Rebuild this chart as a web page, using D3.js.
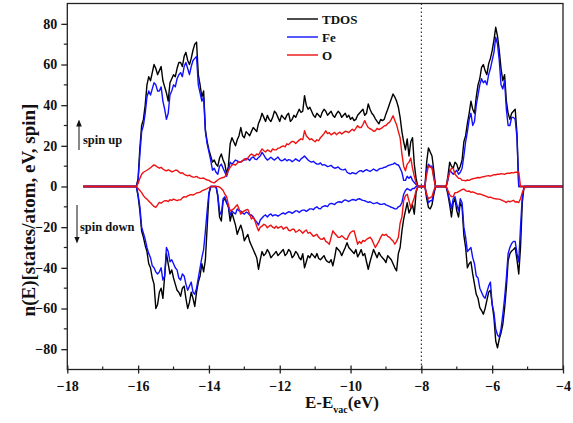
<!DOCTYPE html>
<html>
<head>
<meta charset="utf-8">
<script src="https://cdn.jsdelivr.net/npm/d3@7"></script>
<style>
  html, body { margin: 0; padding: 0; background: #fff; }
  svg { display: block; }
  text { font-family: "Liberation Serif", "Times New Roman", serif; font-weight: bold; }
</style>
</head>
<body>
<svg id="chart" width="573" height="423"></svg>
<script>
// Energy grid (eV, relative to vacuum level)
const energies = [-17.55,
  -16.1,-16.05,-16.0,-15.95,-15.9,-15.85,-15.8,-15.75,-15.7,-15.65,-15.6,-15.55,-15.5,-15.45,-15.4,-15.35,-15.3,-15.25,-15.2,-15.15,
  -15.1,-15.05,-15.0,-14.95,-14.9,-14.85,-14.8,-14.75,-14.7,-14.65,-14.6,-14.55,-14.5,-14.45,-14.4,-14.35,-14.3,-14.25,-14.2,-14.15,
  -14.1,-14.05,-14.0,-13.95,-13.9,-13.85,-13.8,-13.75,-13.7,-13.65,-13.6,-13.55,-13.5,-13.45,-13.4,-13.35,-13.3,-13.25,-13.2,-13.15,
  -13.1,-13.05,-13.0,-12.95,-12.9,-12.85,-12.8,-12.75,-12.7,-12.65,-12.6,-12.55,-12.5,-12.45,-12.4,-12.35,-12.3,-12.25,-12.2,-12.15,
  -12.1,-12.05,-12.0,-11.95,-11.9,-11.85,-11.8,-11.75,-11.7,-11.65,-11.6,-11.55,-11.5,-11.45,-11.4,-11.35,-11.3,-11.25,-11.2,-11.15,
  -11.1,-11.05,-11.0,-10.95,-10.9,-10.85,-10.8,-10.75,-10.7,-10.65,-10.6,-10.55,-10.5,-10.45,-10.4,-10.35,-10.3,-10.25,-10.2,-10.15,
  -10.1,-10.05,-10.0,-9.95,-9.9,-9.85,-9.8,-9.75,-9.7,-9.65,-9.6,-9.55,-9.5,-9.45,-9.4,-9.35,-9.3,-9.25,-9.2,-9.15,
  -9.1,-9.05,-9.0,-8.95,-8.9,-8.85,-8.8,-8.75,-8.7,-8.65,-8.6,-8.55,-8.5,-8.45,-8.4,-8.35,-8.3,-8.25,-8.2,-8.15,
  -8.1,-8.05,-8.0,-7.95,-7.9,-7.85,-7.8,-7.75,-7.7,-7.65,-7.6,-7.55,-7.5,-7.45,-7.4,-7.35,-7.3,-7.25,-7.2,-7.15,
  -7.1,-7.05,-7.0,-6.95,-6.9,-6.85,-6.8,-6.75,-6.7,-6.65,-6.6,-6.55,-6.5,-6.45,-6.4,-6.35,-6.3,-6.25,-6.2,-6.15,
  -6.1,-6.05,-6.0,-5.95,-5.9,-5.85,-5.8,-5.75,-5.7,-5.65,-5.6,-5.55,-5.5,-5.45,-5.4,-5.35,-5.3,-5.25,-5.2,-5.15,
  -5.1,-5.05,-5.0,
  -4.0];

// TDOS spin up
const tdosUp = [0,
  0,0, 4,19, 30,33, 40,50, 54,52, 56,60, 58,55, 57,59, 52,49, 46,42,
  51,53, 55,54, 58,61, 61,59, 64,66, 62,60, 63,67, 70,71, 55,50, 44,47,
  28,22, 18,15, 12,13, 11,10, 14,16, 13,11, 6,10, 21,24, 22,20, 23,25,
  29,25, 24,27, 26,25, 27,29, 28,27, 31,33, 36,34, 32,35, 33,32, 34,37,
  36,34, 32,35, 34,33, 35,36, 32,33, 35,34, 36,38, 36.5,37, 44.7,40, 38,39,
  37,35, 34,36, 35,34, 36.5,38, 37,35, 36,37, 35,34, 35.7,37, 36,34, 35,36,
  34,35, 33,34, 32.4,33, 35,36, 37,38, 35,36, 40.6,38, 36,35, 33.3,32, 30.8,33,
  32.4,33, 35.7,38, 40.6,43, 45.5,44, 42,39, 34,27, 22,18, 23.4,15, 22,24, 11,4,
  0,0, 0,0, 0,12, 19,17, 15,8, 0,0, 0,0, 0,0, 0,5, 12,10,
  9,12, 11,8, 10,13, 22,25, 31,36, 42,38, 36,44, 50,53, 58.6,60, 57,55,
  60.3,63, 66.8,72, 78.3,74, 66.8,58, 52,55, 42,36, 33,36, 37,38, 26,0, 0,0,
  0,0,0,
  0];
// TDOS spin down
const tdosDown = [0,
  0,0, -5,-12, -22,-25, -29,-32, -38,-40, -45,-48, -60,-58, -52,-50, -55,-44, -33,-38,
  -43,-41, -45,-48, -51,-52, -54,-50, -49,-55, -60,-57, -52,-55, -59,-52, -47,-44, -38,-42,
  -36,-20, -4,0, 0,0, 0,-5, -15,-17, -7,-6, -8,-10, -17,-13, -16,-19, -23.5,-21,
  -19,-22, -26.7,-25, -23.6,-27, -29,-31, -33,-35, -40.7,-36, -32,-34, -33,-31, -32.5,-35, -34,-33,
  -32,-34, -33,-32, -31,-34, -33,-31, -32,-35, -34,-32, -33,-35, -36,-33, -40,-37, -34,-35,
  -33,-34, -35,-33, -35.4,-36, -35,-34, -36,-37, -37.4,-36, -39,-35, -30,-31, -32,-34, -32,-30,
  -27.6,-30, -31,-32, -33,-31, -34.6,-33, -31,-34, -33,-37, -40.7,-37, -34,-31, -33,-35, -32.4,-34,
  -35,-36, -37.4,-34, -35,-36, -38,-40, -41.5,-33, -30,-22, -16,-12, -8,-13, -11,-9, -13.6,-3,
  0,0, 0,0, 0,-6, -10.3,-11, -9,-4, 0,0, 0,0, 0,0, 0,-4, -9,-15,
  -8,-6, -12,-15, -8,-10, -24,-30, -40,-38, -37,-43, -48,-53, -55,-59.6, -61,-62.8, -60,-56,
  -52,-51, -58,-64.5, -76,-79.3, -75,-72, -67.8,-60, -50,-36.6, -33,-31.7, -31,-30, -36,-43, -30,-8,
  0,0,0,
  0];
// Fe spin up
const feUp = [0,
  0,0, 3,16, 27,30, 36,44, 47,45, 48,51, 50,47, 47,49, 42,38, 33,36,
  45,47, 50,49, 53,55, 56,54, 59,61, 58,55, 59,62, 63,64, 50,46, 42,44,
  27,21, 17,13, 8,9, 7,6, 10,11, 9,7, 5,8, 12,11, 12,13, 12.6,12,
  12,12.8, 13,13.8, 13.6,12.8, 14,14.6, 13.5,13.2, 14.3,15, 16.8,15.5, 14,13, 13.6,14.4, 13.6,13,
  13.8,14.5, 13.2,12.6, 13,13.6, 12.6,13.2, 13,12.2, 12.8,13.6, 13,12.4, 13.6,14.2, 15,14, 13,12.4,
  12,12.4, 11.6,11, 11,11.6, 10.5,10.8, 10.4,9.8, 10,10.4, 9.5,9, 9.2,9.6, 8.7,8.3, 8.2,8.6,
  7,6.5, 6.2,6.8, 6.5,6.2, 7,7.6, 7.8,7.2, 7.8,8.3, 7.8,7.4, 8,8.6, 8,7.7, 8.5,8.9,
  9,9.4, 9.6,10.2, 10.5,10.8, 11,11.6, 10.8,10.6, 9,7, 3,3, 5,4, 5,3, 2,1,
  0,0, 0,0, 0,8, 11,10, 10,5, 0,0, 0,0, 0,0, 0,3, 8,7,
  6,7, 8,6, 7,9, 15,22, 27,33, 36,30, 32,40, 45,50, 53,51, 52,50,
  55,58, 62,66, 73.4,70, 62,50, 48,52, 38,30, 30,34, 34,33, 24,0, 0,0,
  0,0,0,
  0];
// Fe spin down
const feDown = [0,
  0,0, -4,-10, -20,-23, -26,-30, -33,-35, -39,-40, -42,-43, -42,-40, -46,-44, -30,-32,
  -37,-36, -38,-40, -41,-45, -46,-43, -44,-48, -51,-49, -47,-52, -53,-50, -45,-40, -35,-31,
  -22,-12, -3,0, 0,0, 0,-4, -12,-14, -6,-5, -8,-10, -14,-12, -13,-13.5, -11,-12,
  -12,-13, -13.6,-12.6, -13,-14, -14,-15, -16.4,-17.5, -19,-16.5, -15.5,-14.5, -14,-15, -14,-13.5, -14.5,-14,
  -14,-14.6, -14,-13.4, -13,-13.6, -13,-12.4, -12.6,-13.2, -12.6,-12, -12,-12.8, -12,-11.6, -11.6,-12.2, -11.6,-11,
  -11,-11.4, -10.5,-10, -10.8,-11, -10,-9.6, -9.5,-9.9, -8.7,-8.3, -8.5,-8.9, -8,-7.6, -7.5,-7.9, -7,-6.6,
  -7,-7.4, -6.8,-6.4, -6.5,-6.9, -6.2,-6, -6.5,-6.8, -7,-7.4, -7.8,-7.5, -8,-8.4, -8.2,-7.9, -8.5,-8.8,
  -8.7,-8.4, -9,-9.4, -9.8,-10.2, -10.5,-11, -11,-10, -9.5,-8, -3.8,-2, -1,-1.5, -2,-1, -1,0,
  0,0, 0,0, 0,-4, -8,-7, -7,-3, 0,0, 0,0, 0,0, 0,-3, -7,-11,
  -6,-5, -9,-12, -6,-8, -20,-25, -32,-31, -30,-35, -38,-44, -45,-50, -52,-54, -55,-52,
  -49,-47, -58,-62, -70,-73, -74,-70, -63,-55, -45,-33, -30,-28, -27,-27, -33,-37, -20,-5,
  0,0,0,
  0];
// O spin up
const oUp = [0,
  0,0, 1.5,4, 6,7, 7.5,8, 8.6,9.2, 10,10.6, 10.2,9.5, 9,9.4, 8.6,8, 7.7,8.2,
  7.8,7.2, 7.5,8, 8,7.2, 6.5,6.8, 6,5.6, 5.3,5.6, 5,4.6, 4.6,5, 4.4,4, 4,4.2,
  3.6,3.2, 3,2.4, 2,1.8, 2.5,3.2, 3.8,4.2, 4.4,4.8, 6,8, 9.4,10.5, 11,10.5, 11.5,12.2,
  12,12.6, 13.6,13, 14,15.2, 16,15.4, 15,16, 15.5,17, 18.5,17.6, 17,18, 17.5,17, 18.5,18,
  18,18.8, 19,19.6, 20,19.5, 21,20.6, 21.5,22.2, 22,21.2, 22,22.8, 23.4,23, 27.4,25, 24,23,
  23.5,22.6, 22,23, 22.5,24, 25,26, 27.4,26, 26.5,25.4, 26,26.6, 25.5,26.2, 26.7,25.8, 26.5,27.2,
  27,26.5, 27.4,28.2, 27.4,28.6, 29.9,29, 29,30.5, 32.4,30.5, 29,28.4, 28,27.2, 27.4,28.6, 28,28.5,
  29,29.8, 30,31, 31.5,33, 34.8,32.5, 30.4,27, 24,16, 10,7.7, 11,12, 14,9, 5,2,
  0,0, 0,0, 0,6, 10,9.5, 9,4, 0,0, 0,0, 0,0, 0,4, 7,9,
  9,6, 5,4, 4,3, 3,2.8, 3.2,3, 3.5,3.8, 4,4.2, 4.4,4.3, 4.6,4.8, 5,5.2,
  5.3,5.1, 5.5,5.8, 5.8,6, 6,6.3, 6.2,6, 6.4,6.6, 6.5,6.8, 6.7,7, 7,7.2, 0,0,
  0,0,0,
  0];
// O spin down
const oDown = [0,
  0,0, -1,-2, -3,-4.5, -5.5,-6.2, -7.2,-8, -9,-9.8, -10.3,-9, -7.8,-8.2, -7.5,-7, -7,-7.4,
  -6.5,-6.8, -6.2,-6.6, -7,-6.6, -6.5,-5.6, -5,-5.2, -4.6,-4.2, -4,-4.2, -3.8,-3.2, -3,-2.8, -2.2,-1.8,
  -1.4,-1, -0.5,0, 0,0, 0,0, -0.3,-1, -2,-3.8, -5,-9, -12,-11.5, -11,-10, -9,-11,
  -13.6,-12.5, -12,-11.5, -11.3,-13.5, -16,-15, -17,-19.5, -21.8,-20, -19.5,-18.6, -19,-20.3, -19.5,-19, -20,-20.5,
  -19.5,-20.5, -20,-19.6, -21,-20.3, -20,-21.5, -21.8,-21, -21,-22.5, -22,-21.3, -22,-23, -22,-21.4, -23,-22.5,
  -23.5,-24.5, -24,-23.5, -25,-25.8, -26,-25.2, -27,-27.5, -28.4,-25, -21.8,-23, -24,-25, -25,-24.2, -25,-25.8,
  -26,-24, -22.6,-22, -21.8,-25, -28.4,-27, -28,-26.5, -27,-26, -25.5,-25, -26,-28, -30,-28.5, -27,-25,
  -23.5,-24, -23.5,-24.5, -25,-26, -26.8,-28.4, -27,-25, -18,-15, -7,-4.5, -3.8,-7, -10.4,-8, -5.5,-2,
  0,0, 0,0, 0,-4, -6,-5.5, -5,-2, 0,0, 0,0, 0,0, 0,-2, -4,-5,
  -5,-3, -3,-2.5, -2,-1.5, -1.3,-2, -2.4,-2.2, -2.9,-2.6, -3,-3.4, -3.8,-3.6, -4,-4.3, -4.6,-5,
  -5.4,-5.2, -5.6,-5.9, -6,-6.2, -6.2,-6.6, -7,-7.3, -7.9,-7.2, -7.5,-7.2, -6.8,-7.6, -7.5,-7.9, -6,-3,
  -1,0,0,
  0];

const xTicks = [-18, -16, -14, -12, -10, -8, -6, -4];
const xMinor = [-17, -15, -13, -11, -9, -7, -5];
const yTicks = [-80, -60, -40, -20, 0, 20, 40, 60, 80];
const yMinor = [-70, -50, -30, -10, 10, 30, 50, 70];
const legendNames = ["TDOS", "Fe", "O"];
const colors = ["#000000", "#1010ff", "#ee1111"];

const svg = d3.select("#chart");
const L = 67.3, R = 563, T = 3.5, B = 369.5;

const x = d3.scaleLinear().domain([-18, -4]).range([L, R]);
const y = d3.scaleLinear().domain([-90, 90]).range([B, T]);

const line = d3.line().x((d, i) => x(energies[i])).y(d => y(d)).curve(d3.curveLinear);
const series = [
  [tdosUp, colors[0]], [tdosDown, colors[0]],
  [feUp, colors[1]], [feDown, colors[1]],
  [oUp, colors[2]], [oDown, colors[2]]
];
const plot = svg.append("g");
series.forEach(([vals, c]) => {
  if (vals.length !== energies.length) console.error("length mismatch", vals.length, energies.length);
  plot.append("path").datum(vals)
    .attr("d", line)
    .attr("fill", "none")
    .attr("stroke", c)
    .attr("stroke-width", 1.4)
    .attr("stroke-linejoin", "round");
});

// Dotted vertical line at -8 eV
svg.append("line")
  .attr("x1", x(-8)).attr("x2", x(-8))
  .attr("y1", T).attr("y2", B)
  .attr("stroke", "#222").attr("stroke-width", 1.1)
  .attr("stroke-dasharray", "1.5,2.5");

// Frame
svg.append("rect")
  .attr("x", L).attr("y", T).attr("width", R - L).attr("height", B - T)
  .attr("fill", "none").attr("stroke", "#222").attr("stroke-width", 1.3);

// Bottom axis
const xAxis = d3.axisBottom(x).tickValues(xTicks).tickFormat(d3.format("d")).tickSize(4).tickPadding(8);
const gx = svg.append("g").attr("transform", `translate(0,${B})`).call(xAxis);
gx.select(".domain").remove();
gx.selectAll(".tick line").attr("y1", -4).attr("stroke", "#222").attr("stroke-width", 1.3);
gx.selectAll(".tick text").attr("font-size", 14).attr("fill", "#111")
  .style("font-family", "'Liberation Serif', serif").style("font-weight", "bold");
svg.append("g").selectAll("line").data(xMinor).join("line")
  .attr("x1", d => x(d)).attr("x2", d => x(d))
  .attr("y1", B - 3).attr("y2", B)
  .attr("stroke", "#222").attr("stroke-width", 1.2);

// Left axis
const yAxis = d3.axisLeft(y).tickValues(yTicks).tickFormat(d3.format("d")).tickSize(6).tickPadding(4);
const gy = svg.append("g").attr("transform", `translate(${L},0)`).call(yAxis);
gy.select(".domain").remove();
gy.selectAll(".tick line").attr("stroke", "#222").attr("stroke-width", 1.3);
gy.selectAll(".tick text").attr("font-size", 14).attr("fill", "#111")
  .style("font-family", "'Liberation Serif', serif").style("font-weight", "bold");
svg.append("g").selectAll("line").data(yMinor).join("line")
  .attr("x1", L - 3.5).attr("x2", L)
  .attr("y1", d => y(d)).attr("y2", d => y(d))
  .attr("stroke", "#222").attr("stroke-width", 1.2);

// Axis titles
const xt = svg.append("text").attr("x", 342).attr("y", 408)
  .attr("text-anchor", "middle").attr("font-size", 17).attr("fill", "#111");
xt.append("tspan").text("E-E");
xt.append("tspan").text("vac").attr("font-size", 10).attr("dy", 5);
xt.append("tspan").text("(eV)").attr("dy", -5);

svg.append("text")
  .attr("transform", "translate(35,210) rotate(-90)")
  .attr("text-anchor", "middle").attr("font-size", 19).attr("fill", "#111")
  .text("n(E)[states/atom, eV, spin]");

// Spin annotations
const defs = svg.append("defs");
defs.append("marker").attr("id", "ah").attr("viewBox", "0 0 10 10")
  .attr("refX", 5).attr("refY", 5).attr("markerWidth", 7).attr("markerHeight", 7)
  .attr("orient", "auto-start-reverse")
  .append("path").attr("d", "M0,1 L10,5 L0,9 z").attr("fill", "#111");
svg.append("line").attr("x1", 79).attr("x2", 79).attr("y1", 150).attr("y2", 123)
  .attr("stroke", "#111").attr("stroke-width", 1).attr("marker-end", "url(#ah)");
svg.append("text").attr("x", 83).attr("y", 144).attr("font-size", 12.5).attr("fill", "#111").text("spin up");
svg.append("line").attr("x1", 77).attr("x2", 77).attr("y1", 205).attr("y2", 240)
  .attr("stroke", "#111").attr("stroke-width", 1).attr("marker-end", "url(#ah)");
svg.append("text").attr("x", 80).attr("y", 231).attr("font-size", 12.5).attr("fill", "#111").text("spin down");

// Legend
const lg = svg.append("g");
legendNames.forEach((n, i) => {
  const ly = 19 + i * 18;
  lg.append("line").attr("x1", 287).attr("x2", 318).attr("y1", ly).attr("y2", ly)
    .attr("stroke", colors[i]).attr("stroke-width", 1.4);
  lg.append("text").attr("x", 322).attr("y", ly + 4.5).attr("font-size", 13).attr("fill", "#111").text(n);
});
</script>
</body>
</html>
